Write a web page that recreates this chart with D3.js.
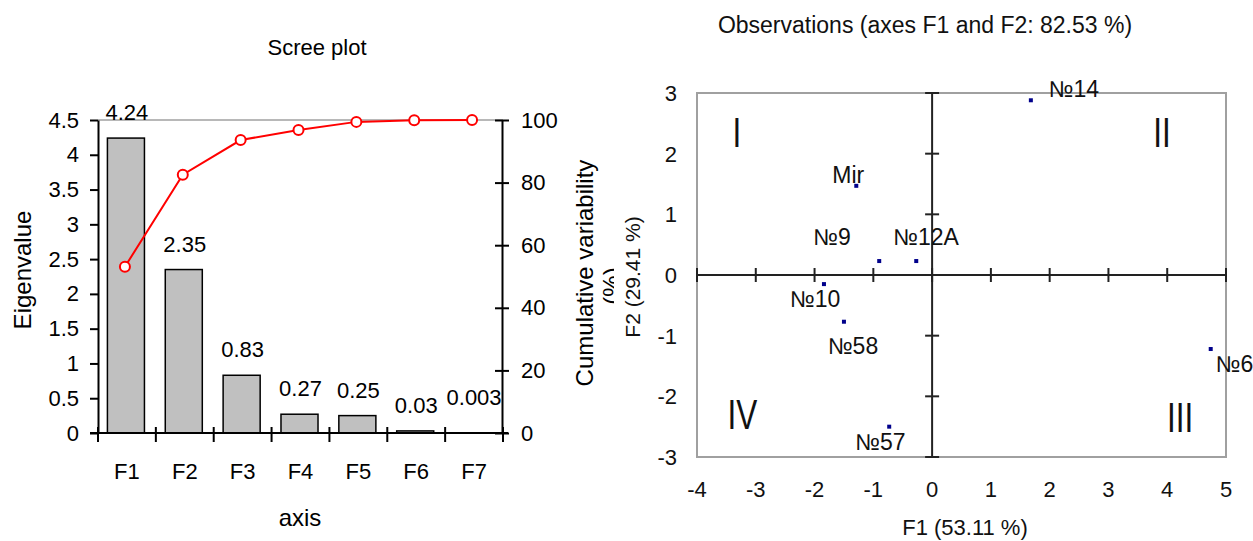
<!DOCTYPE html>
<html>
<head>
  <script src="https://d3js.org/d3.v7.min.js"></script>
  <style>
    body { margin: 0; background: #fff; }
    .left text { font-family: "Liberation Sans", Arial, sans-serif; fill: #000; }
    .right text { font-family: "Liberation Sans", Arial, sans-serif; fill: #111; }
  </style>
</head>
<body>
<svg id="chart" width="1253" height="541"></svg>
<script>
// Scree plot data
const axes = ["F1", "F2", "F3", "F4", "F5", "F6", "F7"];
const eigenvalues = [4.24, 2.35, 0.83, 0.27, 0.25, 0.03, 0.003];
const eigenLabels = ["4.24", "2.35", "0.83", "0.27", "0.25", "0.03", "0.003"];
const cumulative = [53.11, 82.53, 93.6, 96.8, 99.4, 99.9, 100];
const eigenTicks = [0, 0.5, 1, 1.5, 2, 2.5, 3, 3.5, 4, 4.5];
const cumTicks = [0, 20, 40, 60, 80, 100];

// Observations data
const obsNames = ["№14", "Mir", "№9", "№12A", "№10", "№58", "№6", "№57"];
const obsF1 = [1.68, -1.29, -0.90, -0.27, -1.84, -1.50, 4.74, -0.73];
const obsF2 = [2.88, 1.47, 0.23, 0.23, -0.15, -0.77, -1.22, -2.50];
const f1Ticks = [-4, -3, -2, -1, 0, 1, 2, 3, 4, 5];
const f2Ticks = [-3, -2, -1, 0, 1, 2, 3];
const quadNames = ["I", "II", "III", "IV"];

// label placement (pixels, relative to point / quadrant centre in data units)
const obsLabelDx = [18, -24, -66, -23, -34, -16, 5, -34];
const obsLabelDy = [-3, -3, -16, -16, 23, 32, 23, 23];
const quadAt = [[-3.32, 2.36], [3.91, 2.36], [4.22, -2.34], [-3.23, -2.29]];

const svg = d3.select("#chart");

// ---------- Scree plot ----------
const L = svg.append("g").attr("class", "left");
const x = d3.scaleBand().domain(axes).range([98, 503]).padding(0);
const y = d3.scaleLinear().domain([0, 4.5]).range([433, 120]);
const y2 = d3.scaleLinear().domain([0, 100]).range([433, 120]);
const barW = x.bandwidth() * 0.64;

// gray top line
L.append("line").attr("x1", 98).attr("x2", 503).attr("y1", y(4.5)).attr("y2", y(4.5))
  .attr("stroke", "#a0a0a0").attr("stroke-width", 1.5);

L.selectAll(".bar").data(axes).enter().append("rect")
  .attr("x", d => x(d) + (x.bandwidth() - barW) / 2 - 1)
  .attr("y", (d, i) => y(eigenvalues[i]))
  .attr("width", barW)
  .attr("height", (d, i) => y(0) - y(eigenvalues[i]))
  .attr("fill", "#c0c0c0").attr("stroke", "#000").attr("stroke-width", 1.5);

L.selectAll(".val").data(axes).enter().append("text")
  .attr("x", d => x(d) + x.bandwidth() / 2)
  .attr("y", (d, i) => y(eigenvalues[i]) - 18 - (i === 6 ? 10 : 0))
  .attr("text-anchor", "middle").attr("font-size", 22)
  .text((d, i) => eigenLabels[i]);

// left axis
const ax = L.append("g").attr("transform", "translate(98,0)")
  .call(d3.axisLeft(y).tickValues(eigenTicks).tickSize(8).tickSizeOuter(0).tickPadding(11).tickFormat(d => String(d)));
ax.selectAll("text").attr("font-size", 22);

// right axis
const ax2 = L.append("g").attr("transform", "translate(502,0)")
  .call(d3.axisRight(y2).tickValues(cumTicks).tickSize(7).tickSizeOuter(0).tickPadding(12));
ax2.selectAll(".tick line").attr("x1", -7);
ax2.selectAll("text").attr("font-size", 22);

// bottom axis with ticks between bands
L.append("line").attr("x1", 90).attr("x2", 508).attr("y1", 433).attr("y2", 433).attr("stroke", "#000").attr("stroke-width", 2);
L.selectAll(".xt").data(d3.range(axes.length + 1)).enter().append("line")
  .attr("x1", i => 98 + i * x.step()).attr("x2", i => 98 + i * x.step())
  .attr("y1", 427).attr("y2", 442).attr("stroke", "#000").attr("stroke-width", 2);
L.selectAll(".xl").data(axes).enter().append("text")
  .attr("x", d => x(d) + x.bandwidth() / 2).attr("y", 479)
  .attr("text-anchor", "middle").attr("font-size", 22).text(d => d);

[ax, ax2].forEach(g => {
  g.select(".domain").attr("stroke-width", 2);
  g.selectAll(".tick line").attr("stroke-width", 2);
});

// cumulative line
const line = d3.line().x((d, i) => x(axes[i]) + x.bandwidth() / 2 - 2).y(d => y2(d));
L.append("path").datum(cumulative).attr("d", line)
  .attr("fill", "none").attr("stroke", "#ff0000").attr("stroke-width", 2);
L.selectAll(".pt").data(cumulative).enter().append("circle")
  .attr("cx", (d, i) => x(axes[i]) + x.bandwidth() / 2 - 2).attr("cy", d => y2(d))
  .attr("r", 5).attr("fill", "#fff").attr("stroke", "#ff0000").attr("stroke-width", 2);

L.append("text").attr("x", 317).attr("y", 55).attr("text-anchor", "middle").attr("font-size", 22).text("Scree plot");
L.append("text").attr("x", 300).attr("y", 526).attr("text-anchor", "middle").attr("font-size", 24).text("axis");
L.append("text").attr("transform", "translate(31,270) rotate(-90)").attr("text-anchor", "middle").attr("font-size", 24).text("Eigenvalue");
svg.append("clipPath").attr("id", "clipPct").append("rect").attr("x", 560).attr("y", 0).attr("width", 54).attr("height", 541);
const yt = L.append("g").attr("clip-path", "url(#clipPct)");
yt.append("text").attr("transform", "translate(593,273) rotate(-90)").attr("text-anchor", "middle").attr("font-size", 24).text("Cumulative variability");
yt.append("text").attr("transform", "translate(620,286) rotate(-90)").attr("text-anchor", "middle").attr("font-size", 24).text("(%)");

// ---------- Observations ----------
const R = svg.append("g").attr("class", "right");
const sx = d3.scaleLinear().domain([-4, 5]).range([697, 1226]);
const sy = d3.scaleLinear().domain([-3, 3]).range([457, 93]);

R.append("rect").attr("x", sx(-4)).attr("y", sy(3)).attr("width", sx(5) - sx(-4)).attr("height", sy(-3) - sy(3))
  .attr("fill", "none").attr("stroke", "#a0a0a0").attr("stroke-width", 2);

R.append("line").attr("x1", sx(-4)).attr("x2", sx(5)).attr("y1", sy(0)).attr("y2", sy(0)).attr("stroke", "#222").attr("stroke-width", 2);
R.append("line").attr("x1", sx(0)).attr("x2", sx(0)).attr("y1", sy(3)).attr("y2", sy(-3)).attr("stroke", "#222").attr("stroke-width", 2);
R.selectAll(".fx").data(f1Ticks).enter().append("line")
  .attr("x1", d => sx(d)).attr("x2", d => sx(d)).attr("y1", sy(0) - 7).attr("y2", sy(0) + 7)
  .attr("stroke", "#222").attr("stroke-width", 2);
R.selectAll(".fy").data(f2Ticks).enter().append("line")
  .attr("x1", sx(0) - 7).attr("x2", sx(0) + 7).attr("y1", d => sy(d)).attr("y2", d => sy(d))
  .attr("stroke", "#222").attr("stroke-width", 2);

R.selectAll(".fxl").data(f1Ticks).enter().append("text")
  .attr("x", d => sx(d)).attr("y", 497).attr("text-anchor", "middle").attr("font-size", 22).text(d => d);
R.selectAll(".fyl").data(f2Ticks).enter().append("text")
  .attr("x", 677).attr("y", d => sy(d) + 8).attr("text-anchor", "end").attr("font-size", 22).text(d => d);

// quadrant numerals
R.selectAll(".q").data(quadNames).enter().append("text")
  .attr("transform", (d, i) => `translate(${sx(quadAt[i][0])},${sy(quadAt[i][1]) + 15}) scale(0.75,1)`)
  .attr("text-anchor", "middle").attr("font-size", 42).attr("fill", "#222").text(d => d);

R.selectAll(".obs").data(obsNames).enter().append("rect")
  .attr("x", (d, i) => sx(obsF1[i]) - 2).attr("y", (d, i) => sy(obsF2[i]) - 2)
  .attr("width", 4).attr("height", 4).attr("fill", "#00008b");
R.selectAll(".obsl").data(obsNames).enter().append("text")
  .attr("x", (d, i) => sx(obsF1[i]) + obsLabelDx[i]).attr("y", (d, i) => sy(obsF2[i]) + obsLabelDy[i])
  .attr("font-size", 23).text(d => d);

R.append("text").attr("x", 925).attr("y", 33).attr("text-anchor", "middle").attr("font-size", 23)
  .text("Observations (axes F1 and F2: 82.53 %)");
R.append("text").attr("x", 965).attr("y", 535).attr("text-anchor", "middle").attr("font-size", 22).text("F1 (53.11 %)");
R.append("text").attr("transform", "translate(640,277) rotate(-90)").attr("text-anchor", "middle").attr("font-size", 21).text("F2 (29.41 %)");
</script>
</body>
</html>
